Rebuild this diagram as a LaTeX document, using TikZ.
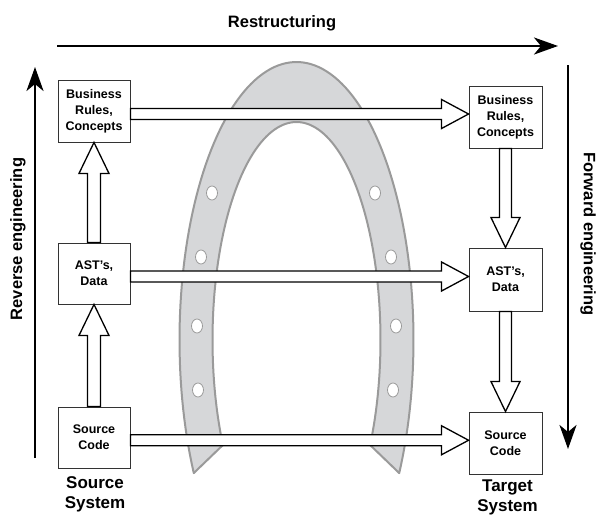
\documentclass[tikz,border=0pt]{standalone}
\usepackage{fontspec}
\setmainfont{Liberation Sans}
\usetikzlibrary{arrows.meta,calc}

\definecolor{shoefill}{HTML}{D6D7D9}
\definecolor{shoeline}{HTML}{9A9A9A}
\definecolor{boxline}{HTML}{333333}

% wide hollow arrows between boxes
\newcommand\hollowright[2]{%
  \draw[hollow] let \p1=(#1), \p2=(#2), \p3=($(#1)!.5!(#2)$) in
    (\x1,\y3+5.5pt) -- (\x2-27pt,\y3+5.5pt) -- (\x2-27pt,\y3+14.5pt) --
    (\x2,\y3) -- (\x2-27pt,\y3-14.5pt) -- (\x2-27pt,\y3-5.5pt) --
    (\x1,\y3-5.5pt) -- cycle;}
\newcommand\hollowup[2]{%
  \draw[hollow] let \p1=(#1), \p2=(#2), \p3=($(#1)!.5!(#2)$) in
    (\x3-6.5pt,\y1) -- (\x3-6.5pt,\y2-31pt) -- (\x3-15pt,\y2-31pt) --
    (\x3,\y2) -- (\x3+15pt,\y2-31pt) -- (\x3+6.5pt,\y2-31pt) --
    (\x3+6.5pt,\y1) -- cycle;}
\newcommand\hollowdown[2]{%
  \draw[hollow] let \p1=(#1), \p2=(#2), \p3=($(#1)!.5!(#2)$) in
    (\x3-6pt,\y1) -- (\x3-6pt,\y2+30pt) -- (\x3-14.5pt,\y2+30pt) --
    (\x3,\y2) -- (\x3+14.5pt,\y2+30pt) -- (\x3+6pt,\y2+30pt) --
    (\x3+6pt,\y1) -- cycle;}

\begin{document}
\begin{tikzpicture}[x=1pt,y=-1pt,
  stagebox/.style={draw=boxline,line width=0.9pt,fill=white,
    minimum width=72pt,minimum height=62pt,inner sep=0pt,align=center,
    font=\fontsize{12.5}{16}\selectfont\bfseries},
  hollow/.style={draw=black,line width=1.3pt,fill=white,line join=miter},
  flow/.style={line width=2.8pt,-{Stealth[length=24pt,width=17pt,inset=7pt]}},
  biglabel/.style={font=\fontsize{16.5}{20}\selectfont\bfseries,inner sep=0pt},
  syslabel/.style={font=\fontsize{17}{20.5}\selectfont\bfseries,inner sep=0pt,
    align=center,anchor=north},
  shoe/.style={draw=shoeline,line width=2pt,fill=shoefill,line join=round},
  nailhole/.style={draw=shoeline,line width=0.8pt,fill=white}]

\useasboundingbox (0,0) rectangle (597,517);

% horseshoe with nail holes
\path[shoe]
  plot[domain=-28.6:208.6,samples=120,variable=\t]
    ({296.5+117*cos(\t)},{340-278*sin(\t)})
  -- plot[domain=208.8:-28.8,samples=120,variable=\t]
    ({296.5+84*cos(\t)},{340-218*sin(\t)})
  -- cycle;
\foreach \hx/\hy in {212/193,201/257,197/326,198/390,
                     375/193,391/257,396/326,393/390}
  \path[nailhole] (\hx,\hy) ellipse [x radius=5.5pt,y radius=7pt];

% direction arrows and their labels
\coordinate (rs) at (57,46);
\coordinate (re) at (558,46);
\coordinate (revs) at (35,458);
\coordinate (reve) at (35,67);
\coordinate (fwds) at (568,65);
\coordinate (fwde) at (568,449);
\draw[flow] (rs) -- (re);
\draw[flow] (revs) -- (reve);
\draw[flow] (fwds) -- (fwde);
\node[biglabel] (restr) at (282,23) {Restructuring};
\node[biglabel,rotate=90] (revlab) at (18,239) {Reverse engineering};
\node[biglabel,rotate=-90] (fwdlab) at (588,234) {Forward engineering};

% source system column
\node[stagebox] (lbr) at (94,111) {Business\\Rules,\\Concepts};
\node[stagebox,minimum height=61pt] (last) at (94,273.5) {AST's,\\Data};
\node[stagebox,minimum height=61pt] (lsc) at (94,437.5) {Source\\Code};
\node[syslabel] (srcsys) at (95,476) {Source\\System};

% target system column
\node[stagebox,minimum width=73pt] (rbr) at (505.5,117) {Business\\Rules,\\Concepts};
\node[stagebox,minimum width=73pt,minimum height=63pt] (rast) at (505.5,279.5) {AST's,\\Data};
\node[stagebox,minimum width=73pt] (rsc) at (505.5,443) {Source\\Code};
\node[syslabel] (tgtsys) at (507.5,479.5) {Target\\System};

% transformations between the levels
\hollowright{lbr.east}{rbr.west}
\hollowright{last.east}{rast.west}
\hollowright{lsc.east}{rsc.west}
\hollowup{lsc.north}{last.south}
\hollowup{last.north}{lbr.south}
\hollowdown{rbr.south}{rast.north}
\hollowdown{rast.south}{rsc.north}

\end{tikzpicture}
\end{document}
